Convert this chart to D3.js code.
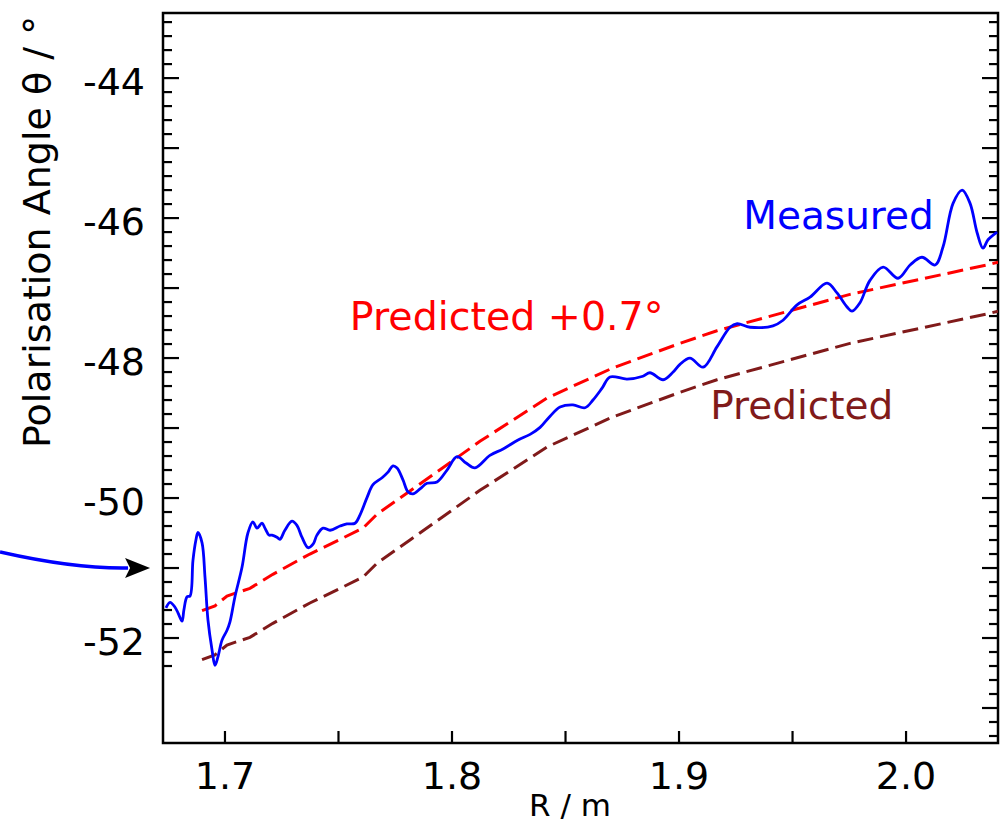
<!DOCTYPE html>
<html>
<head>
<meta charset="utf-8">
<script src="https://cdn.jsdelivr.net/npm/d3@7"></script>
<style>
  body { margin: 0; background: #fff; }
  text { font-family: "DejaVu Sans", sans-serif; }
</style>
</head>
<body>
<div id="container"></div>
<script>
const width = 1006;
const height = 825;

// measured polarisation angle (R in m, angle in degrees)
const measuredR = [1.6740, 1.6758, 1.6780, 1.6793, 1.6811, 1.6819, 1.6833, 1.6846, 1.6859, 1.6872,
  1.6881, 1.6899, 1.6912, 1.6925, 1.6943, 1.6956, 1.6969, 1.6987, 1.7009, 1.7022,
  1.7044, 1.7075, 1.7101, 1.7123, 1.7141, 1.7163, 1.7176, 1.7194, 1.7207, 1.7229,
  1.7242, 1.7264, 1.7295, 1.7317, 1.7339, 1.7366, 1.7388, 1.7405, 1.7432, 1.7463,
  1.7507, 1.7537, 1.7573, 1.7595, 1.7626, 1.7652, 1.7692, 1.7718, 1.7740, 1.7758,
  1.7784, 1.7806, 1.7828, 1.7859, 1.7890, 1.7934, 1.7978, 1.8022, 1.8062, 1.8101,
  1.8167, 1.8225, 1.8291, 1.8344, 1.8388, 1.8432, 1.8476, 1.8533, 1.8586, 1.8621,
  1.8661, 1.8696, 1.8771, 1.8841, 1.8872, 1.8930, 1.8974, 1.9004, 1.9048, 1.9106,
  1.9167, 1.9225, 1.9256, 1.9313, 1.9414, 1.9458, 1.9520, 1.9577, 1.9652, 1.9696,
  1.9740, 1.9762, 1.9797, 1.9841, 1.9899, 1.9965, 2.0018, 2.0070, 2.0128, 2.0163,
  2.0207, 2.0247, 2.0282, 2.0313, 2.0339, 2.0361, 2.0401];
const measuredAngle = [-51.57, -51.49, -51.56, -51.64, -51.76, -51.60, -51.41, -51.40, -50.89, -50.60,
  -50.49, -50.64, -51.13, -51.74, -52.17, -52.39, -52.27, -52.03, -51.89, -51.77,
  -51.41, -50.99, -50.50, -50.34, -50.43, -50.36, -50.43, -50.53, -50.53, -50.56,
  -50.59, -50.46, -50.33, -50.39, -50.56, -50.71, -50.66, -50.53, -50.43, -50.46,
  -50.40, -50.37, -50.36, -50.24, -49.99, -49.81, -49.71, -49.63, -49.54, -49.57,
  -49.74, -49.91, -49.94, -49.87, -49.79, -49.77, -49.60, -49.41, -49.50, -49.57,
  -49.39, -49.30, -49.17, -49.09, -48.99, -48.83, -48.70, -48.67, -48.71, -48.60,
  -48.43, -48.27, -48.30, -48.26, -48.21, -48.31, -48.20, -48.09, -48.00, -48.13,
  -47.84, -47.56, -47.51, -47.56, -47.54, -47.46, -47.24, -47.13, -46.93, -47.07,
  -47.27, -47.33, -47.21, -46.89, -46.70, -46.86, -46.67, -46.56, -46.67, -46.41,
  -45.79, -45.60, -45.79, -46.21, -46.43, -46.31, -46.20];

// predicted angle
const predictedR = [1.6899, 1.6956, 1.7009, 1.7110, 1.7211, 1.7374, 1.7520, 1.7608, 1.7670,
  1.7815, 1.8123, 1.8419, 1.8709, 1.9004, 1.9167, 1.9753, 2.0370, 2.0405];
const predictedAngle = [-52.31, -52.24, -52.10, -51.99, -51.79, -51.50, -51.27, -51.13, -50.93,
  -50.60, -49.89, -49.27, -48.84, -48.49, -48.31, -47.79, -47.36, -47.33];
// predicted +0.7 degrees
const shiftedAngle = [-51.61, -51.54, -51.40, -51.29, -51.09, -50.80, -50.57, -50.43, -50.23,
  -49.90, -49.19, -48.57, -48.14, -47.79, -47.61, -47.09, -46.66, -46.63];

const xTicks = [1.70, 1.75, 1.80, 1.85, 1.90, 1.95, 2.00];
const xLabels = ["1.7", "1.8", "1.9", "2.0"];
const yLabels = [-44, -46, -48, -50, -52];

const plot = { left: 163, top: 13, right: 998, bottom: 743 };

const x = d3.scaleLinear().domain([1.6727, 2.0405]).range([plot.left, plot.right]);
const y = d3.scaleLinear().domain([-53.5, -43.07]).range([plot.bottom, plot.top]);

const svg = d3.select("#container").append("svg")
    .attr("width", width)
    .attr("height", height);

svg.append("defs").append("clipPath").attr("id", "clip")
  .append("rect")
    .attr("x", plot.left).attr("y", plot.top)
    .attr("width", plot.right - plot.left).attr("height", plot.bottom - plot.top);

// y ticks, every 0.2, majors at integers
const yTicks = d3.range(-534, -430, 2).map(d => d / 10);
const isMajor = v => Math.abs(v - Math.round(v)) < 1e-6;

const ticks = svg.append("g").attr("stroke", "#000").attr("stroke-width", 2.2);
yTicks.filter(v => v >= -52.45).forEach(v => {
  const len = isMajor(v) ? 16 : 9;
  ticks.append("line").attr("x1", plot.left).attr("x2", plot.left + len)
    .attr("y1", y(v)).attr("y2", y(v));
});
yTicks.forEach(v => {
  const len = isMajor(v) ? 16 : 9;
  ticks.append("line").attr("x1", plot.right).attr("x2", plot.right - len)
    .attr("y1", y(v)).attr("y2", y(v));
});
xTicks.forEach(v => {
  ticks.append("line").attr("x1", x(v)).attr("x2", x(v))
    .attr("y1", plot.bottom).attr("y2", plot.bottom - 12);
});

// frame
svg.append("rect")
    .attr("x", plot.left).attr("y", plot.top)
    .attr("width", plot.right - plot.left).attr("height", plot.bottom - plot.top)
    .attr("fill", "none").attr("stroke", "#000").attr("stroke-width", 2.5);

// tick labels
svg.append("g").selectAll("text").data(yLabels).join("text")
    .attr("x", 145)
    .attr("y", d => y(d) + 17)
    .attr("text-anchor", "end")
    .attr("font-size", 38)
    .text(d => String(d));

svg.append("g").selectAll("text").data(xLabels).join("text")
    .attr("x", d => x(+d))
    .attr("y", 789)
    .attr("text-anchor", "middle")
    .attr("font-size", 38)
    .text(d => d);

svg.append("text")
    .attr("x", 570).attr("y", 816)
    .attr("text-anchor", "middle")
    .attr("font-size", 31)
    .text("R / m");

svg.append("text")
    .attr("transform", "translate(50,448) rotate(-90)")
    .attr("text-anchor", "start")
    .attr("font-size", 38)
    .text("Polarisation Angle θ / °");

// lines
const g = svg.append("g").attr("clip-path", "url(#clip)");

const straight = d3.line().x(d => x(d[0])).y(d => y(d[1]));
const smooth = d3.line().x(d => x(d[0])).y(d => y(d[1])).curve(d3.curveCatmullRom);

g.append("path")
    .datum(d3.zip(predictedR, predictedAngle))
    .attr("d", straight)
    .attr("fill", "none").attr("stroke", "#801a1a").attr("stroke-width", 3)
    .attr("stroke-dasharray", "16,7");

g.append("path")
    .datum(d3.zip(predictedR, shiftedAngle))
    .attr("d", straight)
    .attr("fill", "none").attr("stroke", "#ff0000").attr("stroke-width", 3)
    .attr("stroke-dasharray", "16,7");

g.append("path")
    .datum(d3.zip(measuredR, measuredAngle))
    .attr("d", smooth)
    .attr("fill", "none").attr("stroke", "#0000ff").attr("stroke-width", 2.8);

// annotations
svg.append("text").attr("x", x(1.9283)).attr("y", y(-46.157))
    .attr("font-size", 39).attr("fill", "#0000ff").text("Measured");
svg.append("text").attr("x", x(1.7550)).attr("y", y(-47.6))
    .attr("font-size", 39.5).attr("fill", "#ff0000").text("Predicted +0.7°");
svg.append("text").attr("x", x(1.9137)).attr("y", y(-48.871))
    .attr("font-size", 39).attr("fill", "#801a1a").text("Predicted");

// arrow pointing at -51 on the axis
const arrowStart = [x(1.6009), y(-50.771)];
const arrowTip = [x(1.6670), y(-51.0)];
const arrowBack = arrowTip[0] - 25;
svg.append("path")
    .attr("d", `M${arrowStart[0]},${arrowStart[1]} Q${arrowStart[0] + 75},${arrowTip[1] + 1} ${arrowBack + 3},${arrowTip[1]}`)
    .attr("fill", "none").attr("stroke", "#0000ff").attr("stroke-width", 3.5);
svg.append("path")
    .attr("d", `M${arrowTip[0]},${arrowTip[1]} L${arrowBack},${arrowTip[1] - 10} L${arrowBack + 5},${arrowTip[1]} L${arrowBack},${arrowTip[1] + 10} Z`)
    .attr("fill", "#000");
</script>
</body>
</html>
